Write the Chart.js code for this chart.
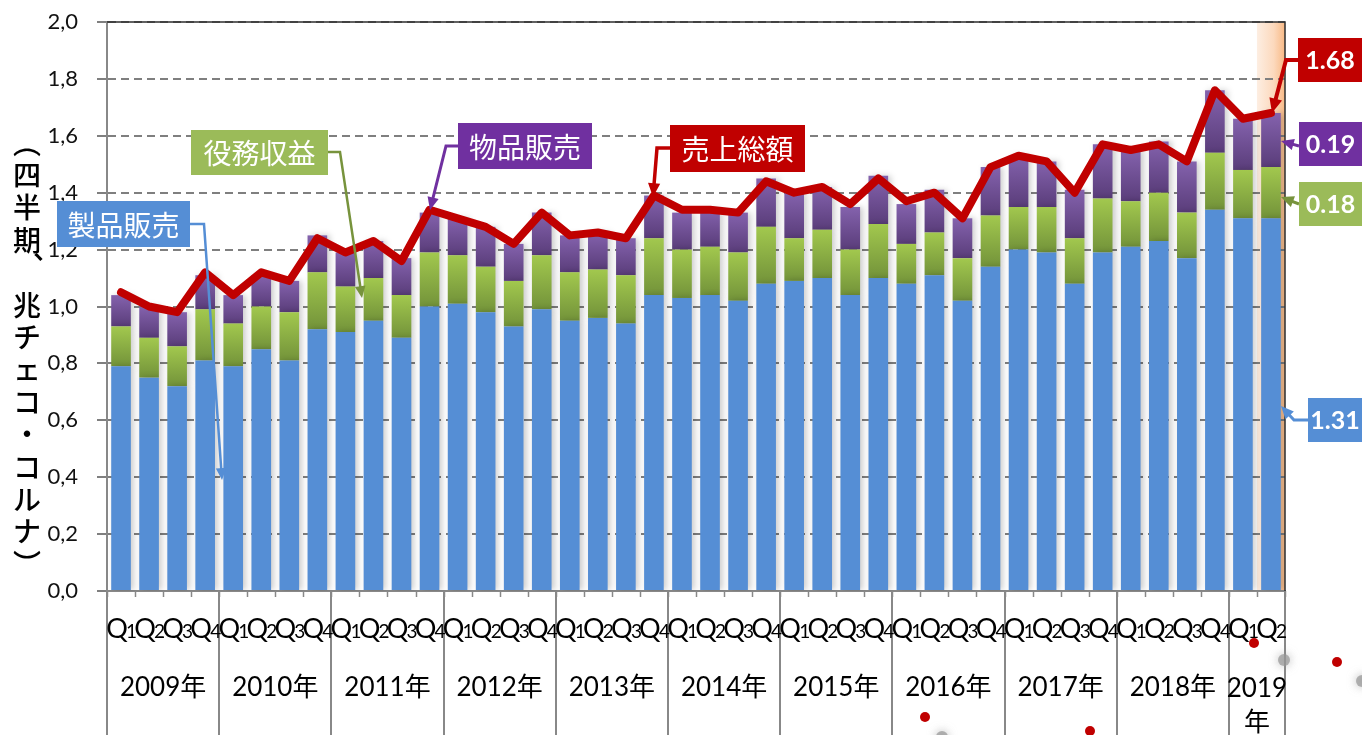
<!DOCTYPE html>
<html>
<head>
<meta charset="utf-8">
<script src="https://cdn.jsdelivr.net/npm/chart.js@4.4.1/dist/chart.umd.min.js"></script>
<style>
  html, body { margin: 0; padding: 0; background: #fff; }
  #chart { display: block; }
</style>
</head>
<body>
<canvas id="chart" width="1362" height="735"></canvas>
<script>
// quarterly sales, trillion CZK
const quarterLabels = [
  'Q1','Q2','Q3','Q4', 'Q1','Q2','Q3','Q4', 'Q1','Q2','Q3','Q4', 'Q1','Q2','Q3','Q4',
  'Q1','Q2','Q3','Q4', 'Q1','Q2','Q3','Q4', 'Q1','Q2','Q3','Q4', 'Q1','Q2','Q3','Q4',
  'Q1','Q2','Q3','Q4', 'Q1','Q2','Q3','Q4', 'Q1','Q2'
];
const yearLabels = ['2009年','2010年','2011年','2012年','2013年','2014年','2015年','2016年','2017年','2018年','2019年'];
const quartersPerYear = [4,4,4,4,4,4,4,4,4,4,2];

const productSales = [
  0.79,0.75,0.72,0.81, 0.79,0.85,0.81,0.92, 0.91,0.95,0.89,1.00, 1.01,0.98,0.93,0.99,
  0.95,0.96,0.94,1.04, 1.03,1.04,1.02,1.08, 1.09,1.10,1.04,1.10, 1.08,1.11,1.02,1.14,
  1.20,1.19,1.08,1.19, 1.21,1.23,1.17,1.34, 1.31,1.31
];
const serviceRevenue = [
  0.14,0.14,0.14,0.18, 0.15,0.15,0.17,0.20, 0.16,0.15,0.15,0.19, 0.17,0.16,0.16,0.19,
  0.17,0.17,0.17,0.20, 0.17,0.17,0.17,0.20, 0.15,0.17,0.16,0.19, 0.14,0.15,0.15,0.18,
  0.15,0.16,0.16,0.19, 0.16,0.17,0.16,0.20, 0.17,0.18
];
const goodsSales = [
  0.11,0.11,0.12,0.12, 0.10,0.11,0.11,0.13, 0.12,0.13,0.13,0.14, 0.13,0.14,0.13,0.15,
  0.13,0.13,0.13,0.15, 0.13,0.13,0.14,0.17, 0.16,0.15,0.15,0.17, 0.14,0.15,0.14,0.17,
  0.18,0.16,0.17,0.19, 0.18,0.18,0.18,0.22, 0.18,0.19
];
const totalSales = [
  1.05,1.00,0.98,1.12, 1.04,1.12,1.09,1.24, 1.19,1.23,1.16,1.34, 1.31,1.28,1.22,1.33,
  1.25,1.26,1.24,1.39, 1.34,1.34,1.33,1.44, 1.40,1.42,1.36,1.45, 1.37,1.40,1.31,1.49,
  1.53,1.51,1.40,1.57, 1.55,1.57,1.51,1.76, 1.66,1.68
];

const yAxisTitle = ['︵','四','半','期','︑','兆','チ','ェ','コ','・','コ','ル','ナ','︶'];

const serviceBase = productSales;
const goodsBase = productSales.map((v, i) => v + serviceRevenue[i]);

function segGradient(ctx, bases, values, topColor, bottomColor) {
  const chart = ctx.chart;
  if (ctx.type !== 'data' || !chart.scales.y) return topColor;
  const i = ctx.dataIndex;
  const y = chart.scales.y;
  const y0 = y.getPixelForValue(bases[i] + values[i]);
  const y1 = y.getPixelForValue(bases[i]);
  if (!isFinite(y0) || !isFinite(y1) || y0 === y1) return topColor;
  const g = chart.ctx.createLinearGradient(0, y0, 0, y1);
  g.addColorStop(0, topColor);
  g.addColorStop(1, bottomColor);
  return g;
}

// callout boxes with leader arrows
const callouts = [
  { text: '製品販売', bg: '#558ed5', line: '#558ed5', lw: 2.5, box: [57, 201, 133, 46], path: [[190,224],[204,224],[222,480]], font: '28px "Noto Sans CJK JP"' },
  { text: '役務収益', bg: '#9bbb59', line: '#77933c', lw: 2.5, box: [191, 130, 137, 45], path: [[328,152],[340,152],[362,298]], font: '28px "Noto Sans CJK JP"' },
  { text: '物品販売', bg: '#7030a0', line: '#7030a0', lw: 3, box: [458, 123, 134, 46], path: [[458,146],[446,146],[430,210]], font: '28px "Noto Sans CJK JP"' },
  { text: '売上総額', bg: '#c00000', line: '#c00000', lw: 3.5, box: [670, 125, 135, 47], path: [[670,148],[657,148],[653,197]], font: '28px "Noto Sans CJK JP"' },
  { text: '1.68', bg: '#c00000', line: '#c00000', lw: 4, box: [1298, 38, 64, 44], path: [[1298,60],[1286,60],[1272,113]], font: 'bold 25px Lato' },
  { text: '0.19', bg: '#7030a0', line: '#7030a0', lw: 3, box: [1299, 122, 63, 44], path: [[1299,146],[1281,141]], font: 'bold 25px Lato' },
  { text: '0.18', bg: '#9bbb59', line: '#77933c', lw: 3, box: [1299, 182, 63, 44], path: [[1299,204],[1281,197]], font: 'bold 25px Lato' },
  { text: '1.31', bg: '#558ed5', line: '#558ed5', lw: 3, box: [1308, 398, 54, 44], path: [[1308,420],[1294,420],[1281,406]], font: 'bold 25px Lato' }
];

function drawCallout(c, o) {
  c.save();
  c.strokeStyle = o.line;
  c.fillStyle = o.line;
  c.lineWidth = o.lw;
  const p = o.path;
  const [xa, ya] = p[p.length - 2];
  const [xb, yb] = p[p.length - 1];
  const ang = Math.atan2(yb - ya, xb - xa);
  const head = 8 + o.lw * 2;
  c.beginPath();
  c.moveTo(p[0][0], p[0][1]);
  for (let k = 1; k < p.length - 1; k++) c.lineTo(p[k][0], p[k][1]);
  c.lineTo(xb - Math.cos(ang) * head * 0.7, yb - Math.sin(ang) * head * 0.7);
  c.stroke();
  c.beginPath();
  c.moveTo(xb, yb);
  c.lineTo(xb - head * Math.cos(ang - 0.42), yb - head * Math.sin(ang - 0.42));
  c.lineTo(xb - head * Math.cos(ang + 0.42), yb - head * Math.sin(ang + 0.42));
  c.closePath();
  c.fill();
  const [bx, by, bw, bh] = o.box;
  c.fillStyle = o.bg;
  c.fillRect(bx, by, bw, bh);
  c.fillStyle = '#fff';
  c.font = o.font;
  c.textAlign = 'center';
  c.textBaseline = 'middle';
  c.fillText(o.text, bx + bw / 2, by + bh / 2 + 1);
  c.restore();
}

const decorPlugin = {
  id: 'decor',
  beforeDraw(chart) {
    const c = chart.ctx, a = chart.chartArea, x = chart.scales.x;
    c.save();
    c.fillStyle = '#fff';
    c.fillRect(0, 0, chart.width, chart.height);
    // highlighted latest quarter
    const w = x.getPixelForValue(1) - x.getPixelForValue(0);
    const last = quarterLabels.length - 1;
    const x0 = x.getPixelForValue(last) - w / 2;
    const g = c.createLinearGradient(x0, 0, a.right, 0);
    g.addColorStop(0, '#fdeee2');
    g.addColorStop(0.6, '#fcd9bd');
    g.addColorStop(1, '#f8b985');
    c.fillStyle = g;
    c.fillRect(x0, a.top, a.right - x0, a.bottom - a.top);
    c.restore();
  },
  beforeDatasetDraw(chart, args) {
    if (chart.data.datasets[args.index].type === 'line') return;
    const c = chart.ctx;
    c.save();
    c.shadowColor = 'rgba(0,0,0,0.2)';
    c.shadowBlur = 6;
    c.shadowOffsetX = 3;
  },
  afterDatasetDraw(chart, args) {
    if (chart.data.datasets[args.index].type === 'line') return;
    chart.ctx.restore();
  },
  afterDraw(chart) {
    const c = chart.ctx, a = chart.chartArea, x = chart.scales.x;
    const w = x.getPixelForValue(1) - x.getPixelForValue(0);
    const left = x.getPixelForValue(0) - w / 2;
    c.save();
    // frame top / right
    c.strokeStyle = '#2e2e2e';
    c.lineWidth = 1.5;
    c.beginPath();
    c.moveTo(a.left, a.top);
    c.lineTo(a.right, a.top);
    c.lineTo(a.right, a.bottom);
    c.stroke();
    // small category ticks
    c.strokeStyle = '#888';
    c.lineWidth = 1.5;
    for (let i = 0; i <= quarterLabels.length; i++) {
      const xx = Math.round(left + i * w) + 0.5;
      c.beginPath();
      c.moveTo(xx, a.bottom);
      c.lineTo(xx, a.bottom + 6);
      c.stroke();
    }
    // year separators
    c.lineWidth = 2;
    let idx = 0;
    const seps = [0];
    quartersPerYear.forEach(n => { idx += n; seps.push(idx); });
    seps.forEach(s => {
      const xx = Math.round(left + s * w);
      c.beginPath();
      c.moveTo(xx, a.bottom);
      c.lineTo(xx, chart.height);
      c.stroke();
    });
    // quarter labels: big Q, small digit tucked against the next one
    c.fillStyle = '#000';
    c.textBaseline = 'alphabetic';
    quarterLabels.forEach((q, i) => {
      const cx = x.getPixelForValue(i);
      c.textAlign = 'center';
      c.font = '27px Lato';
      c.fillText(q.charAt(0), cx - 4, a.bottom + 47);
      c.textAlign = 'left';
      c.font = '19px Lato';
      c.fillText(q.slice(1), cx + 5, a.bottom + 47);
    });
    // year labels
    c.textAlign = 'center';
    c.textBaseline = 'middle';
    c.font = '26px Lato, "Noto Sans CJK JP"';
    yearLabels.forEach((yl, k) => {
      const cx = left + (seps[k] + seps[k + 1]) / 2 * w;
      const span = quartersPerYear[k] * w;
      if (c.measureText(yl).width > span - 4) {
        c.fillText(yl.slice(0, -1), cx, a.bottom + 98);
        c.fillText(yl.slice(-1), cx, a.bottom + 132);
      } else {
        c.fillText(yl, cx, a.bottom + 97);
      }
    });
    // vertical axis title
    c.font = '500 28px "Noto Sans CJK JP"';
    yAxisTitle.forEach((ch, i) => {
      if (ch === '︑') {
        c.fillText(ch, 30, 143 + i * 32.4 - 6);
      } else {
        c.fillText(ch, 27, 143 + i * 32.4);
      }
    });
    // callouts
    callouts.forEach(o => drawCallout(c, o));
    // stray markers near the bottom
    c.fillStyle = 'rgba(150,150,150,0.7)';
    c.shadowColor = 'rgba(150,150,150,0.9)';
    c.shadowBlur = 10;
    [[942, 737], [1284, 660], [1362, 681]].forEach(([px, py]) => {
      c.beginPath(); c.arc(px, py, 6, 0, Math.PI * 2); c.fill();
    });
    c.shadowBlur = 0;
    c.fillStyle = '#c00000';
    [[925, 717], [1090, 731], [1254, 643], [1337, 662]].forEach(([px, py]) => {
      c.beginPath(); c.arc(px, py, 5, 0, Math.PI * 2); c.fill();
    });
    c.restore();
  }
};

new Chart(document.getElementById('chart'), {
  data: {
    labels: quarterLabels,
    datasets: [
      {
        type: 'line',
        label: '売上総額',
        data: totalSales,
        stack: 'total',
        order: 0,
        borderColor: '#c00000',
        borderWidth: 8,
        pointRadius: 0,
        tension: 0,
        borderJoinStyle: 'round',
        borderCapStyle: 'round'
      },
      {
        type: 'bar',
        label: '製品販売',
        data: productSales,
        stack: 'sales',
        order: 1,
        backgroundColor: '#558ed5',
        barPercentage: 0.7,
        categoryPercentage: 1
      },
      {
        type: 'bar',
        label: '役務収益',
        data: serviceRevenue,
        stack: 'sales',
        order: 1,
        backgroundColor: ctx => segGradient(ctx, serviceBase, serviceRevenue, '#a2c84e', '#73933a'),
        barPercentage: 0.7,
        categoryPercentage: 1
      },
      {
        type: 'bar',
        label: '物品販売',
        data: goodsSales,
        stack: 'sales',
        order: 1,
        backgroundColor: ctx => segGradient(ctx, goodsBase, goodsSales, '#8462ad', '#5a3d7a'),
        barPercentage: 0.7,
        categoryPercentage: 1
      }
    ]
  },
  options: {
    responsive: false,
    animation: false,
    devicePixelRatio: 1,
    layout: { padding: { top: 22, right: 77, left: 0, bottom: 0 } },
    plugins: {
      legend: { display: false },
      tooltip: { enabled: false }
    },
    scales: {
      x: {
        stacked: true,
        grid: { display: false },
        border: { display: true, color: '#888', width: 2 },
        ticks: { display: false },
        afterFit(scale) { scale.height = 144; }
      },
      y: {
        stacked: true,
        min: 0,
        max: 2,
        grid: { color: '#7f7f7f', lineWidth: 2, tickLength: 10, tickWidth: 2 },
        border: { display: true, color: '#888', width: 2, dash: [8, 5] },
        ticks: {
          stepSize: 0.2,
          padding: 19,
          color: '#111',
          font: { family: 'Lato', size: 22 },
          callback: v => v.toFixed(1).replace('.', ',')
        },
        afterFit(scale) {
          scale.width = 107;
          scale.paddingTop = 0;
          scale.paddingBottom = 0;
        }
      }
    }
  },
  plugins: [decorPlugin]
});
</script>
</body>
</html>
